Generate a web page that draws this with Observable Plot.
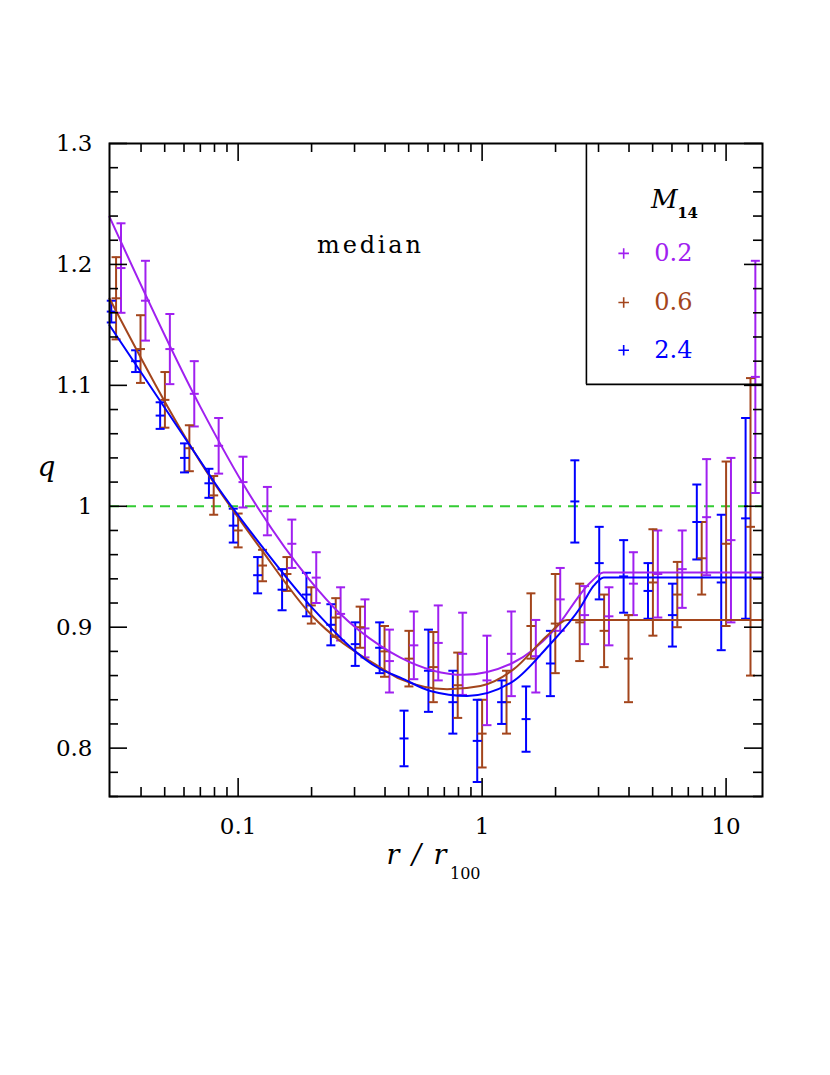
<!DOCTYPE html>
<html>
<head>
<meta charset="utf-8">
<script src="https://cdn.jsdelivr.net/npm/d3@7"></script>
<script src="https://cdn.jsdelivr.net/npm/@observablehq/plot@0.6"></script>
<style>
  body { margin: 0; background: #ffffff; }
  #chart svg { display: block; }
</style>
</head>
<body>
<div id="chart"></div>
<script>
// ---------- data ----------
const seriesNames  = ["0.2", "0.6", "2.4"];           // M14 values
const seriesColors = ["#a020f0", "#a3451c", "#0000ff"];

// radial bins r / r100 (each series slightly offset in the original)
const rPurple = [0.0331,0.0417,0.0525,0.0661,0.0832,0.1047,0.1318,0.166,0.209,0.263,0.331,0.417,0.525,0.661,0.832,1.047,1.318,1.66,2.09,2.63,3.31,4.17,5.25,6.61,8.32,10.47,13.18];
const rBrown  = [0.0316,0.0398,0.0501,0.0631,0.0794,0.1,0.1259,0.1585,0.1995,0.2512,0.3162,0.3981,0.5012,0.631,0.7943,1,1.259,1.585,1.995,2.512,3.162,3.981,5.012,6.31,7.943,10,12.59];
const rBlue   = [0.0302,0.038,0.0479,0.0603,0.0759,0.0955,0.1202,0.1514,0.1905,0.2399,0.302,0.3802,0.4786,0.6026,0.7586,0.955,1.202,1.514,1.905,2.399,3.02,3.802,4.786,6.026,7.586,9.55,12.02];

// median q and half error bar
const qPurple = [1.197,1.170,1.130,1.093,1.050,1.020,0.996,0.969,0.941,0.911,0.899,0.872,0.885,0.887,0.878,0.856,0.878,0.876,0.923,0.910,0.909,0.936,0.944,0.948,0.991,0.972,1.107];
const ePurple = [0.037,0.033,0.029,0.027,0.023,0.021,0.020,0.020,0.021,0.022,0.024,0.026,0.028,0.031,0.034,0.037,0.035,0.030,0.026,0.024,0.024,0.026,0.036,0.032,0.048,0.068,0.096];
const qBrown  = [1.172,1.130,1.088,1.048,1.009,0.980,0.951,0.944,0.918,0.908,0.900,0.880,0.874,0.867,0.852,0.812,0.838,0.901,0.903,0.904,0.897,0.874,0.937,0.927,0.957,0.969,0.983];
const eBrown  = [0.034,0.028,0.023,0.019,0.016,0.014,0.013,0.014,0.015,0.016,0.017,0.021,0.023,0.029,0.027,0.028,0.026,0.027,0.041,0.032,0.030,0.036,0.044,0.027,0.030,0.068,0.123];
const qBlue   = [1.161,1.120,1.075,1.040,1.019,0.984,0.943,0.931,0.927,0.902,0.886,0.883,0.808,0.864,0.838,0.806,0.838,0.824,0.870,1.004,0.953,0.942,0.930,0.910,0.987,0.937,0.990];
const eBlue   = [0.009,0.009,0.011,0.012,0.012,0.014,0.015,0.017,0.018,0.017,0.018,0.021,0.023,0.034,0.026,0.034,0.018,0.027,0.027,0.034,0.030,0.030,0.023,0.026,0.031,0.056,0.083];

// model curves
const curvePurpleR = [0.0297,0.0701,0.1038,0.1978,0.2626,0.383,0.4626,0.8385,1.344,1.96,2.779,3.142,14.1];
const curvePurpleQ = [1.2394,1.082,1.0199,0.9384,0.9109,0.8846,0.8749,0.8606,0.8708,0.897,0.937,0.9453,0.9453];
const curveBrownR  = [0.0297,0.0701,0.1254,0.1978,0.383,0.4626,0.7187,0.984,1.348,1.846,2.23,14.1];
const curveBrownQ  = [1.1718,1.0365,0.9633,0.9109,0.8666,0.857,0.8487,0.8514,0.8653,0.8929,0.906,0.906];
const curveBlueR   = [0.0297,0.0701,0.0799,0.1254,0.1978,0.383,0.4626,0.6138,0.868,1.348,1.846,2.528,2.867,3.151,14.1];
const curveBlueQ   = [1.1497,1.0372,1.0199,0.9666,0.9177,0.8653,0.8583,0.8473,0.8432,0.8556,0.8832,0.9163,0.9343,0.9412,0.9412];

// axis ticks
const xMajor = [0.1, 1, 10];
const xMinor = [0.04,0.05,0.06,0.07,0.08,0.09,0.2,0.3,0.4,0.5,0.6,0.7,0.8,0.9,2,3,4,5,6,7,8,9];
const yMajor = [0.8, 0.9, 1, 1.1, 1.2, 1.3];
const yMinor = [0.76,0.78,0.82,0.84,0.86,0.88,0.92,0.94,0.96,0.98,1.02,1.04,1.06,1.08,1.12,1.14,1.16,1.18,1.22,1.24,1.26,1.28];
const referenceQ = [1];

// legend annotation (data coordinates)
const legendRowQ = [1.2091, 1.1685, 1.129];

// ---------- build tables ----------
const seriesTable = [
  {name: seriesNames[0], r: rPurple, q: qPurple, e: ePurple},
  {name: seriesNames[1], r: rBrown,  q: qBrown,  e: eBrown},
  {name: seriesNames[2], r: rBlue,   q: qBlue,   e: eBlue}
];
const points = seriesTable.flatMap(s => s.r.map((r, i) => ({
  series: s.name, r, q: s.q[i], lo: s.q[i] - s.e[i], hi: s.q[i] + s.e[i]
})));
const curves = [
  {name: seriesNames[0], r: curvePurpleR, q: curvePurpleQ},
  {name: seriesNames[1], r: curveBrownR,  q: curveBrownQ},
  {name: seriesNames[2], r: curveBlueR,   q: curveBlueQ}
].flatMap(c => c.r.map((r, i) => ({series: c.name, r, q: c.q[i]})));
const legendRows = seriesNames.map((n, i) => ({series: n, q: legendRowQ[i]}));

// horizontal bar symbol for error-bar caps and centre ticks
const hbar = { draw(ctx, size) { const w = Math.sqrt(size / Math.PI); ctx.moveTo(-w, 0); ctx.lineTo(w, 0); } };

const W = 830, H = 1075;
const mL = 109, mR = 68, mT = 143, mB = 279;
const frameH = H - mT - mB, frameW = W - mL - mR;
const xDomain = [0.0297, 14.1], yDomain = [0.76, 1.3];

const chart = Plot.plot({
  width: W, height: H,
  marginLeft: mL, marginRight: mR, marginTop: mT, marginBottom: mB,
  style: {fontFamily: "'DejaVu Serif', 'Liberation Serif', serif", fontSize: "23px", background: "#ffffff", color: "#000"},
  x: {type: "log", domain: xDomain},
  y: {domain: yDomain},
  color: {domain: seriesNames, range: seriesColors},
  marks: [
    // reference line q = 1
    Plot.ruleY(referenceQ, {stroke: "#33cc33", strokeWidth: 2, strokeDasharray: "10,7"}),
    // error bars
    Plot.ruleX(points, {x: "r", y1: "lo", y2: "hi", stroke: "series", strokeWidth: 2}),
    Plot.dot(points, {x: "r", y: "lo", symbol: hbar, r: 4.5, stroke: "series", fill: "none", strokeWidth: 2}),
    Plot.dot(points, {x: "r", y: "hi", symbol: hbar, r: 4.5, stroke: "series", fill: "none", strokeWidth: 2}),
    Plot.dot(points, {x: "r", y: "q", symbol: hbar, r: 4.5, stroke: "series", fill: "none", strokeWidth: 2}),
    // model curves
    Plot.line(curves, {x: "r", y: "q", z: "series", stroke: "series", strokeWidth: 2, curve: "monotone-x"}),
    // ticks (inward, all four sides)
    Plot.tickX(xMajor, {x: d => d, insetTop: frameH - 18, stroke: "#000", strokeWidth: 1.6}),
    Plot.tickX(xMinor, {x: d => d, insetTop: frameH - 9, stroke: "#000", strokeWidth: 1.6}),
    Plot.tickX(xMajor, {x: d => d, insetBottom: frameH - 18, stroke: "#000", strokeWidth: 1.6}),
    Plot.tickX(xMinor, {x: d => d, insetBottom: frameH - 9, stroke: "#000", strokeWidth: 1.6}),
    Plot.tickY(yMajor, {y: d => d, insetRight: frameW - 18, stroke: "#000", strokeWidth: 1.6}),
    Plot.tickY(yMinor, {y: d => d, insetRight: frameW - 9, stroke: "#000", strokeWidth: 1.6}),
    Plot.tickY(yMajor, {y: d => d, insetLeft: frameW - 18, stroke: "#000", strokeWidth: 1.6}),
    Plot.tickY(yMinor, {y: d => d, insetLeft: frameW - 9, stroke: "#000", strokeWidth: 1.6}),
    // tick labels
    Plot.axisX({ticks: xMajor, tickSize: 0, tickPadding: 21, label: null, tickFormat: d => String(d), fontSize: 23}),
    Plot.axisY({ticks: yMajor, tickSize: 0, tickPadding: 17, label: null, tickFormat: d => String(d), fontSize: 23}),
    // axis labels
    Plot.text(["q"], {text: d => d, frameAnchor: "left", dx: -72, dy: -3, fontStyle: "italic", fontSize: 28}),
    Plot.text(["r / r"], {text: d => d, frameAnchor: "bottom", dx: 12.5, dy: 67, textAnchor: "end", fontStyle: "italic", fontSize: 27}),
    Plot.text(["100"], {text: d => d, frameAnchor: "bottom", dx: 14, dy: 82, textAnchor: "start", fontSize: 16}),
    // annotation
    Plot.text(["median"], {text: d => d, x: 0.3484, y: 1.216, fontSize: 24}),
    // legend box
    Plot.ruleX([2.676], {x: d => d, y1: 1.1008, y2: 1.3, stroke: "#000", strokeWidth: 1.6}),
    Plot.ruleY([1.1008], {y: d => d, x1: 2.676, x2: 14.1, stroke: "#000", strokeWidth: 1.6}),
    Plot.text(["M"], {text: d => d, x: 4.928, y: 1.2533, textAnchor: "start", fontStyle: "italic", fontSize: 26}),
    Plot.text(["14"], {text: d => d, x: 6.3, y: 1.2425, textAnchor: "start", fontWeight: "bold", fontSize: 15}),
    Plot.dot(legendRows, {x: 3.804, y: "q", symbol: "plus", r: 3.5, stroke: "series", strokeWidth: 1.6}),
    Plot.text(legendRows, {x: 5.08, y: "q", text: "series", fill: "series", textAnchor: "start", fontSize: 24}),
    // frame
    Plot.frame({stroke: "#000", strokeWidth: 2})
  ]
});

// wide Hershey-like lettering for a few labels
chart.querySelectorAll("text").forEach(t => {
  if (t.textContent === "median") t.setAttribute("letter-spacing", "2.8");
  if (t.textContent === "r / r") t.setAttribute("letter-spacing", "2");
});
document.getElementById("chart").appendChild(chart);
</script>
</body>
</html>
